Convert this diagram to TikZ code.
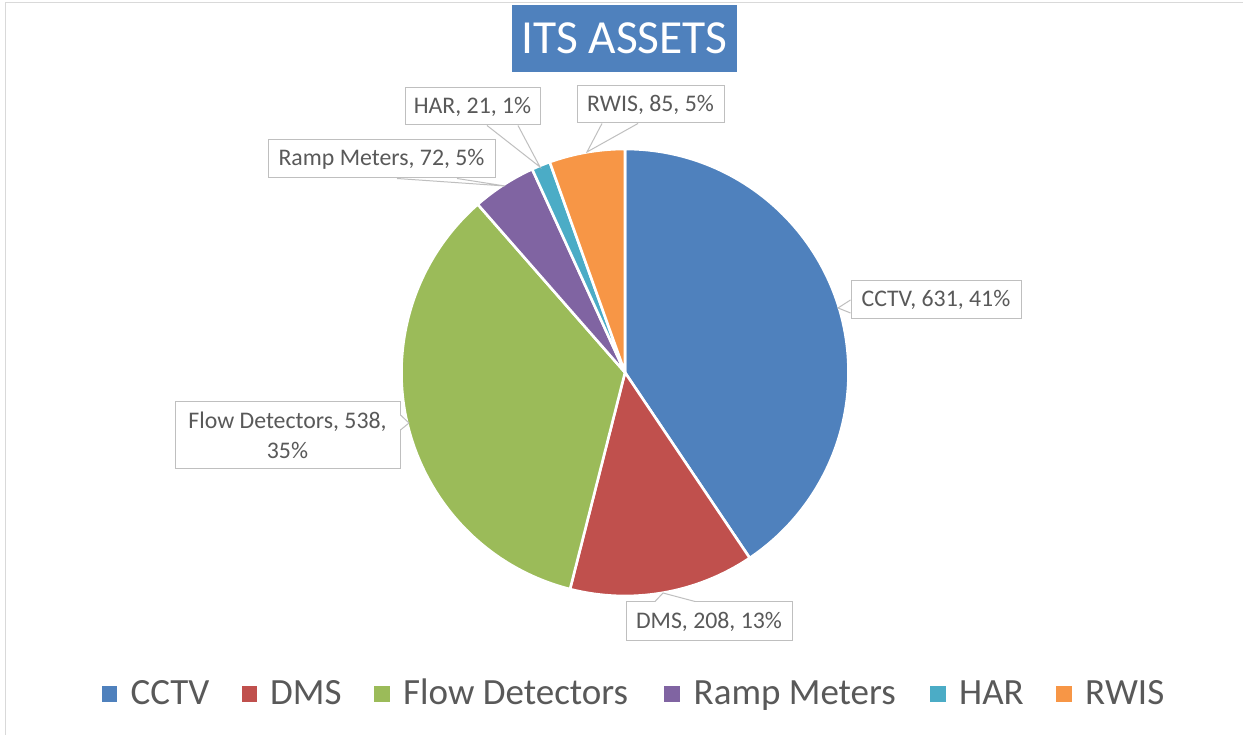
\documentclass[tikz,border=0pt]{standalone}
\usepackage{fontspec}
\setmainfont{Carlito}
\definecolor{cctvc}{HTML}{4F81BD}
\definecolor{dmsc}{HTML}{C0504D}
\definecolor{flowc}{HTML}{9BBB59}
\definecolor{rampc}{HTML}{8064A2}
\definecolor{harc}{HTML}{4BACC6}
\definecolor{rwisc}{HTML}{F79646}
\definecolor{txtgray}{HTML}{595959}
\definecolor{lblborder}{HTML}{BFBFBF}
\definecolor{framec}{HTML}{D9D9D9}
\newcommand{\callout}[3]{%
  \fill[white] #1 -- #2 -- #3 -- cycle;
  \draw[white,line width=1.8pt,shorten >=0.7pt,shorten <=0.7pt] #1 -- #3;
  \draw[lblborder,line width=1pt,line join=miter] #1 -- #2 -- #3;}
\begin{document}
\begin{tikzpicture}[x=1pt,y=1pt,
  slice/.style={draw=white,line width=2.6pt,line join=round},
  lbl/.style={draw=lblborder,fill=white,line width=1pt,text=txtgray,
    font=\fontsize{23.8}{30}\selectfont,inner sep=0pt,align=center},
  leg/.style={font=\fontsize{37}{40}\selectfont,text=txtgray,anchor=base west,inner sep=0pt},
  legsq/.style={minimum size=15.6pt,inner sep=0pt,anchor=center}]
\useasboundingbox (0,0) rectangle (1243,735);
\fill[white] (0,0) rectangle (1243,735);
\draw[framec,line width=1pt] (5,0) -- (5,732.5) -- (1243,732.5);

% title
\node[fill=cctvc,minimum width=225pt,minimum height=66.7pt,inner sep=0pt,
  text=white,font=\fontsize{47.5}{50}\selectfont] (title) at (624.5,696.7) {ITS ASSETS};

% pie
\coordinate (C) at (625,362.5);
\def\R{223.5}
\filldraw[slice,fill=cctvc] (C) -- ++(90:\R) arc[start angle=90,end angle=-56.084,radius=\R] -- cycle;
\filldraw[slice,fill=dmsc] (C) -- ++(-56.084:\R) arc[start angle=-56.084,end angle=-104.238,radius=\R] -- cycle;
\filldraw[slice,fill=flowc] (C) -- ++(-104.238:\R) arc[start angle=-104.238,end angle=-228.791,radius=\R] -- cycle;
\filldraw[slice,fill=rampc] (C) -- ++(-228.791:\R) arc[start angle=-228.791,end angle=-245.460,radius=\R] -- cycle;
\filldraw[slice,fill=harc] (C) -- ++(-245.460:\R) arc[start angle=-245.460,end angle=-250.322,radius=\R] -- cycle;
\filldraw[slice,fill=rwisc] (C) -- ++(-250.322:\R) arc[start angle=-250.322,end angle=-270,radius=\R] -- cycle;

% data labels
\node[lbl,minimum width=170pt,minimum height=38pt] (lcctv) at (936,435) {CCTV, 631, 41\%};
\coordinate (tcctv) at (838,427);
\callout{(lcctv.west)}{(tcctv)}{([yshift=-13pt]lcctv.west)}

\node[lbl,minimum width=166pt,minimum height=39pt] (ldms) at (709,113.5) {DMS, 208, 13\%};
\coordinate (tdms) at (663,142);
\callout{([xshift=-54pt]ldms.north)}{(tdms)}{([xshift=-14pt]ldms.north)}

\node[lbl,minimum width=225pt,minimum height=67pt] (lflow) at (287.5,299.5) {Flow Detectors, 538,\\35\%};
\coordinate (tflow) at (409,312);
\callout{([yshift=20.5pt]lflow.east)}{(tflow)}{([yshift=5.5pt]lflow.east)}

\node[lbl,minimum width=227pt,minimum height=38pt] (lramp) at (381.5,576) {Ramp Meters, 72, 5\%};
\coordinate (tramp) at (505,549);
\callout{([xshift=15.5pt]lramp.south)}{(tramp)}{([xshift=75.5pt]lramp.south)}

\node[lbl,minimum width=135pt,minimum height=37pt] (lhar) at (472.5,628.5) {HAR, 21, 1\%};
\coordinate (thar) at (540,568);
\callout{([xshift=14.5pt]lhar.south)}{(thar)}{([xshift=45.5pt]lhar.south)}

\node[lbl,minimum width=147pt,minimum height=37pt] (lrwis) at (650.5,630.5) {RWIS, 85, 5\%};
\coordinate (trwis) at (587,583);
\callout{([xshift=-48.5pt]lrwis.south)}{(trwis)}{([xshift=-12.5pt]lrwis.south)}

% legend
\node[legsq,fill=cctvc] (sq1) at (109.5,41) {};
\node[leg] (lg1) at (130.5,30.7) {CCTV};
\node[legsq,fill=dmsc] (sq2) at (249.5,41) {};
\node[leg] (lg2) at (270,30.7) {DMS};
\node[legsq,fill=flowc] (sq3) at (382,41) {};
\node[leg] (lg3) at (403,30.7) {Flow Detectors};
\node[legsq,fill=rampc] (sq4) at (672,41) {};
\node[leg] (lg4) at (693.5,30.7) {Ramp Meters};
\node[legsq,fill=harc] (sq5) at (938,41) {};
\node[leg] (lg5) at (959,30.7) {HAR};
\node[legsq,fill=rwisc] (sq6) at (1064,41) {};
\node[leg] (lg6) at (1085,30.7) {RWIS};
\end{tikzpicture}
\end{document}
